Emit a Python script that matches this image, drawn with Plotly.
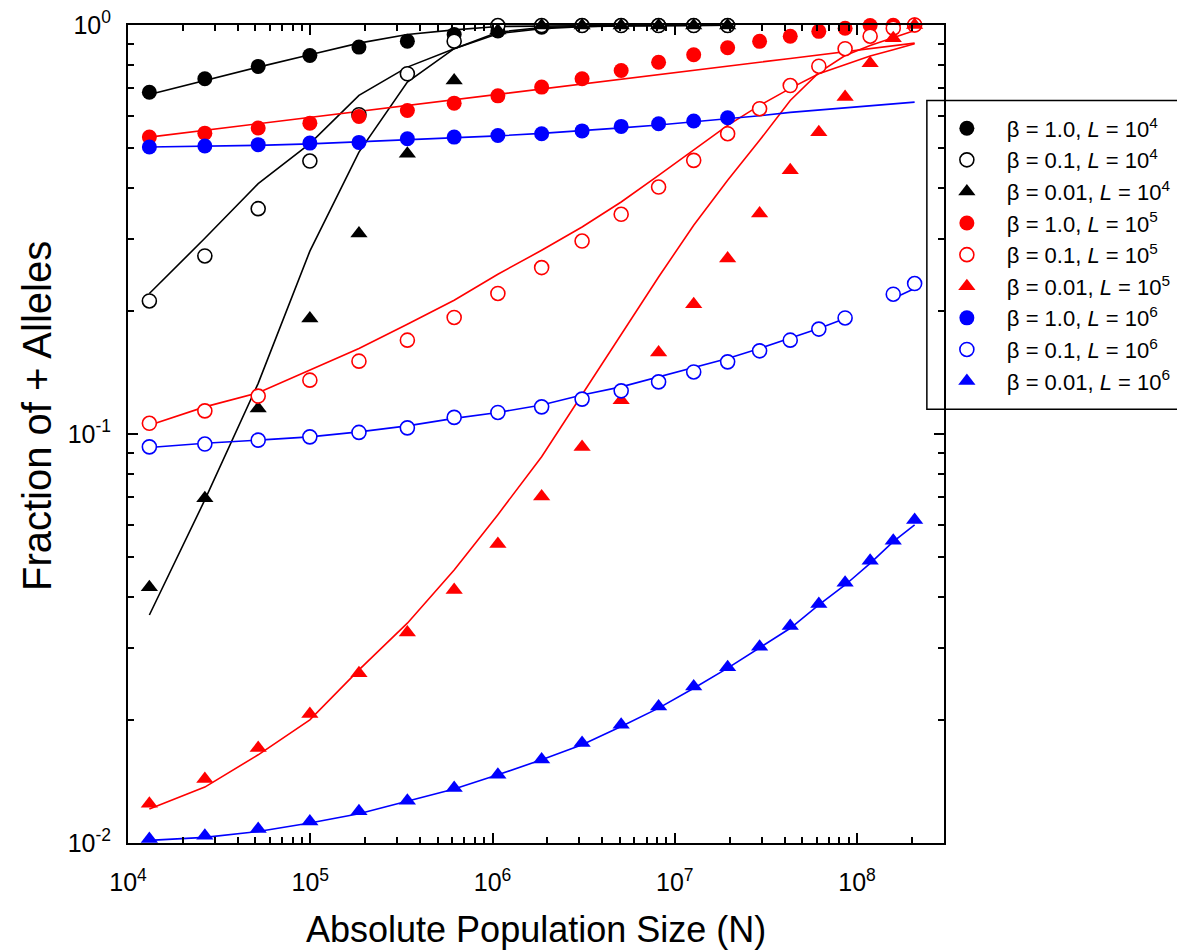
import plotly.graph_objects as go

# ---------------- data ----------------
N = [1.31e4, 2.64e4, 5.18e4, 9.95e4, 1.85e5, 3.41e5, 6.16e5, 1.07e6, 1.86e6, 3.10e6,
     5.08e6, 8.15e6, 1.27e7, 1.95e7, 2.92e7, 4.30e7, 6.17e7, 8.6e7, 1.18e8, 1.58e8, 2.07e8]

# L = 1e4 (14 points)
k_b1 = [0.685, 0.739, 0.792, 0.842, 0.883, 0.913, 0.948, 0.967, 0.988, 0.997, 0.997, 0.997, 0.997, 0.997]
k_b1_fit = [0.676, 0.732, 0.789, 0.846, 0.903, 0.948, 0.973, 0.9915, 0.995, 0.997, 0.998, 0.998, 0.999, 0.999]
k_b01 = [0.2115, 0.2725, 0.3556, 0.4649, 0.6035, 0.760, 0.913, 0.997, 0.997, 0.997, 0.997, 0.997, 0.997, 0.997]
k_b01_fit = [0.2205, 0.301, 0.4094, 0.5128, 0.673, 0.789, 0.8746, 0.952, 0.98, 0.99, 0.995, 0.997, 0.998, 0.999]
k_b001 = [0.0422, 0.0696, 0.1155, 0.1915, 0.309, 0.4845, 0.732, 0.97, 0.997, 0.997, 0.997, 0.997, 0.997, 0.997]
k_b001_fit = [0.0361, 0.069, 0.133, 0.28, 0.489, 0.725, 0.875, 0.960, 0.986, 0.993, 0.996, 0.997, 0.998, 0.999]

# L = 1e5 (21 points)
r_b1 = [0.532, 0.544, 0.56, 0.5755, 0.5976, 0.618, 0.644, 0.671, 0.705, 0.739, 0.774, 0.811,
        0.846, 0.88, 0.912, 0.939, 0.965, 0.982, 0.997, 0.998, 1.0]
r_b1_fit = [0.532, 0.553, 0.574, 0.594, 0.615, 0.636, 0.657, 0.677, 0.698, 0.717, 0.737, 0.756,
            0.775, 0.793, 0.811, 0.828, 0.845, 0.860, 0.875, 0.889, 0.903]
r_b01 = [0.1062, 0.1139, 0.1238, 0.1354, 0.1507, 0.1696, 0.1927, 0.2206, 0.2552, 0.2963, 0.3445,
         0.4016, 0.4667, 0.5423, 0.6241, 0.7113, 0.793, 0.875, 0.939, 0.982, 1.0]
r_b01_fit = [0.1051, 0.1165, 0.1261, 0.1432, 0.1618, 0.1855, 0.2124, 0.2458, 0.2813, 0.3207, 0.3692,
             0.4290, 0.4937, 0.5681, 0.6358, 0.70, 0.76, 0.80, 0.84, 0.87, 0.90]
r_b001 = [0.01247, 0.01433, 0.01706, 0.02066, 0.02602, 0.0327, 0.04157, 0.05383, 0.07033, 0.0929,
          0.121, 0.1582, 0.2077, 0.2685, 0.3458, 0.4413, 0.547, 0.6669, 0.8066, 0.9285, 1.0]
r_b001_fit = [0.01211, 0.0137, 0.01643, 0.02, 0.02651, 0.03447, 0.0465, 0.0635, 0.0880, 0.1250,
              0.1761, 0.2421, 0.3238, 0.417, 0.5223, 0.654, 0.765, 0.842, 0.891, 0.932, 0.970]

# L = 1e6
u_b1 = [0.503, 0.5058, 0.5098, 0.5144, 0.5164, 0.5272, 0.532, 0.537, 0.5423, 0.5509, 0.565,
        0.5736, 0.5827, 0.5933]
u_b1_fit = [0.503, 0.505, 0.5078, 0.5121, 0.518, 0.5239, 0.5297, 0.5357, 0.5433, 0.5509, 0.5603,
            0.5697, 0.5794, 0.5893, 0.600, 0.6113, 0.6199, 0.6287, 0.6358, 0.643, 0.6477]
u_b01 = [0.0930, 0.0945, 0.0966, 0.0984, 0.1009, 0.1035, 0.1098, 0.1129, 0.1165, 0.1217, 0.1275,
         0.1341, 0.1418, 0.1501, 0.1597, 0.1696, 0.1805, 0.1922, None, 0.2197, 0.2333]
u_b01_fit = [0.0927, 0.0949, 0.0966, 0.0984, 0.1012, 0.1047, 0.1092, 0.1129, 0.1177, 0.1245, 0.1304,
             0.1379, 0.1459, 0.153, 0.1618, 0.1713, 0.1811, 0.1915, None, 0.2145, 0.2268]
u_b001 = [0.01023, 0.01042, 0.01082, 0.01129, 0.01195, 0.01269, 0.01362, 0.01468, 0.0160, 0.01755,
          0.01945, 0.02157, 0.02413, 0.02691, 0.0302, 0.03395, 0.03842, 0.04329, 0.0490, 0.05483, 0.06163]
u_b001_fit = [0.01015, 0.01032, 0.01067, 0.01119, 0.01179, 0.01264, 0.01355, 0.01468, 0.01598, 0.01738,
              0.01926, 0.02137, 0.0239, 0.02676, 0.02994, 0.0335, 0.0382, 0.04274, 0.04829, 0.05453, 0.05993]

legend_names = [
    "β = 1.0, <i>L</i> = 10<sup>4</sup>", "β = 0.1, <i>L</i> = 10<sup>4</sup>", "β = 0.01, <i>L</i> = 10<sup>4</sup>",
    "β = 1.0, <i>L</i> = 10<sup>5</sup>", "β = 0.1, <i>L</i> = 10<sup>5</sup>", "β = 0.01, <i>L</i> = 10<sup>5</sup>",
    "β = 1.0, <i>L</i> = 10<sup>6</sup>", "β = 0.1, <i>L</i> = 10<sup>6</sup>", "β = 0.01, <i>L</i> = 10<sup>6</sup>",
]
x_tickvals = [1e4, 1e5, 1e6, 1e7, 1e8]
x_ticktext = ["10<sup>4</sup>", "10<sup>5</sup>", "10<sup>6</sup>", "10<sup>7</sup>", "10<sup>8</sup>"]
y_tickvals = [1e-2, 1e-1, 1]
y_ticktext = ["10<sup>-2</sup>", "10<sup>-1</sup>", "10<sup>0</sup>"]

# ---------------- figure ----------------
FONT = "Arial, Liberation Sans, sans-serif"
series = [
    (k_b1, k_b1_fit, "black", "circle"), (k_b01, k_b01_fit, "black", "circle-open"),
    (k_b001, k_b001_fit, "black", "triangle-up"),
    (r_b1, r_b1_fit, "red", "circle"), (r_b01, r_b01_fit, "red", "circle-open"),
    (r_b001, r_b001_fit, "red", "triangle-up"),
    (u_b1, u_b1_fit, "blue", "circle"), (u_b01, u_b01_fit, "blue", "circle-open"),
    (u_b001, u_b001_fit, "blue", "triangle-up"),
]
colors = {"black": "#000000", "red": "#FF0000", "blue": "#0000FF"}

fig = go.Figure()
for ys, fit, col, sym in series:
    fig.add_trace(go.Scatter(x=N[:len(fit)], y=fit, mode="lines", showlegend=False,
                             line=dict(color=colors[col], width=1.6), connectgaps=False,
                             cliponaxis=False, hoverinfo="skip"))
for (ys, fit, col, sym), name in zip(series, legend_names):
    if sym == "circle-open":
        marker = dict(symbol="circle", size=14, color="white", line=dict(color=colors[col], width=1.6))
    elif sym == "circle":
        marker = dict(symbol="circle", size=15, color=colors[col], line=dict(width=0))
    else:
        marker = dict(symbol="triangle-up", size=15, color=colors[col], line=dict(width=0))
    fig.add_trace(go.Scatter(x=N[:len(ys)], y=ys, mode="markers", name=name, marker=marker,
                             cliponaxis=False))

axis_common = dict(type="log", showgrid=False, zeroline=False, showline=True, linecolor="black",
                   linewidth=2, mirror="ticks", ticks="inside", ticklen=10, tickwidth=1.5,
                   tickcolor="black", tickfont=dict(family=FONT, size=25, color="black"))
fig.update_xaxes(**axis_common, range=[4, 8.4771], tickvals=x_tickvals, ticktext=x_ticktext,
                 ticklabelstandoff=16,
                 minor=dict(ticks="inside", ticklen=6, tickwidth=1.5, tickcolor="black",
                            tickvals=[m * 10 ** e for e in range(4, 9) for m in range(2, 10) if m * 10 ** e < 3e8]))
fig.update_yaxes(**axis_common, range=[-2, 0], tickvals=y_tickvals, ticktext=y_ticktext,
                 ticklabelstandoff=10,
                 minor=dict(ticks="inside", ticklen=6, tickwidth=1.5, tickcolor="black",
                            tickvals=[m * 10 ** e for e in range(-2, 0) for m in range(2, 10)]))

fig.update_layout(
    width=1177, height=951,
    margin=dict(l=128, r=233, t=25, b=108, autoexpand=False),
    plot_bgcolor="white", paper_bgcolor="white",
    font=dict(family=FONT, color="black"),
    legend=dict(x=0.979, y=0.8992, xanchor="left", yanchor="top",
                borderwidth=0, bgcolor="rgba(0,0,0,0)",
                font=dict(family=FONT, size=22, color="black"), itemwidth=70),
    shapes=[dict(type="rect", xref="paper", yref="paper", x0=0.979, x1=1.32, y0=0.5304, y1=0.9078,
                 line=dict(color="black", width=1.5), fillcolor="white", layer="below")],
    annotations=[
        dict(text="Absolute Population Size (N)", xref="paper", yref="paper", x=0.5, y=-0.106,
             xanchor="center", yanchor="middle", showarrow=False, font=dict(family=FONT, size=36)),
        dict(text="Fraction of + Alleles", xref="paper", yref="paper", x=-0.1115, y=0.522,
             xanchor="center", yanchor="middle", textangle=-90, showarrow=False,
             font=dict(family=FONT, size=40)),
    ],
)
fig.write_html("out.html")
